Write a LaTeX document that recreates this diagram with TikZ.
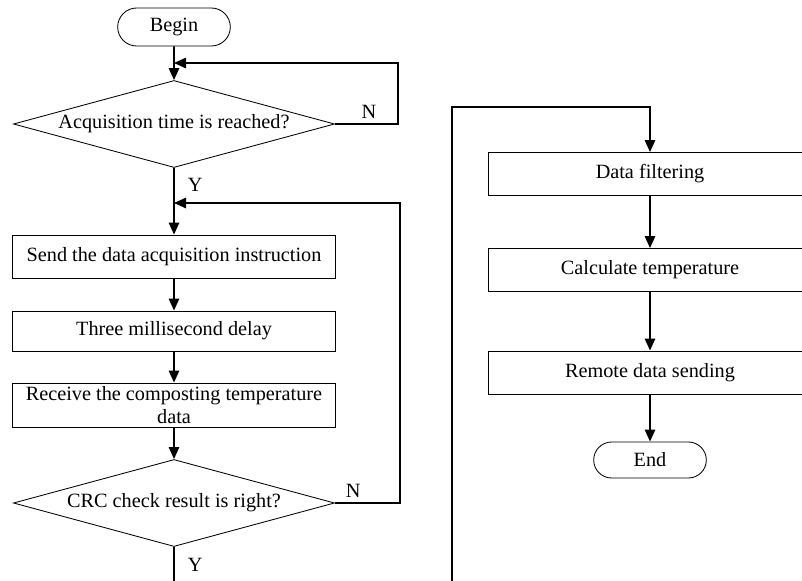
\documentclass[tikz,border=0pt]{standalone}
\usepackage{fontspec}
\setmainfont{Liberation Serif}
\usetikzlibrary{shapes.geometric,shapes.misc,arrows.meta}
\tikzset{
  box/.style={draw,line width=0.6pt,minimum width=8.075cm,minimum height=1.075cm,align=center,inner sep=1pt},
  test/.style={draw,diamond,line width=0.6pt,shape aspect=3.7,inner sep=0pt,minimum width=8.025cm,minimum height=2.175cm},
  term/.style={draw,rounded rectangle,line width=0.6pt,minimum width=3.05cm,minimum height=0.95cm},
  line/.style={line width=1.2pt},
  arr/.style={line,-{Triangle[length=3mm,width=2.6mm]}}
}
\begin{document}
\begin{tikzpicture}[x=0.025cm,y=-0.025cm,font=\fontsize{14.4}{16}\selectfont]
\useasboundingbox (0,0) rectangle (802,580);
\clip (0,0) rectangle (802,580);
\node[term] (begin) at (174,27) {Begin};
\node[test] (acq) at (174,124) {Acquisition time is reached?};
\coordinate (back1) at (174,63);
\coordinate (back2) at (174,203);
\node[box] (send) at (174,256.5) {Send the data acquisition instruction};
\node[box,minimum height=1cm] (delay) at (174,331) {Three millisecond delay};
\node[box,minimum height=1.1cm] (recv) at (174,405) {Receive the composting temperature\\data};
\node[test] (crc) at (174,503) {CRC check result is right?};
\node[box] (filter) at (650,174) {Data filtering};
\node[box] (calc) at (650,270) {Calculate temperature};
\node[box] (remote) at (650,372.5) {Remote data sending};
\node[term,minimum height=0.9cm] (end) at (650,460) {End};
\draw[arr] (begin) -- (acq);
\draw[arr] (acq.east) -| node[pos=.27,above]{N} (398,63) -- (back1);
\draw[arr] (acq) -- node[pos=.26,right=6pt]{Y} (send);
\draw[arr] (crc.east) -| node[pos=.14,above]{N} (400,203) -- (back2);
\foreach \a/\b in {send/delay,delay/recv,recv/crc} {
  \draw[arr] (\a) -- (\b);
}
\draw[arr] (crc.south) -- node[pos=.24,right=6pt]{Y} (174,620) -| (452,107) -| (filter.north);
\foreach \a/\b in {filter/calc,calc/remote,remote/end} {
  \draw[arr] (\a) -- (\b);
}
\end{tikzpicture}
\end{document}
